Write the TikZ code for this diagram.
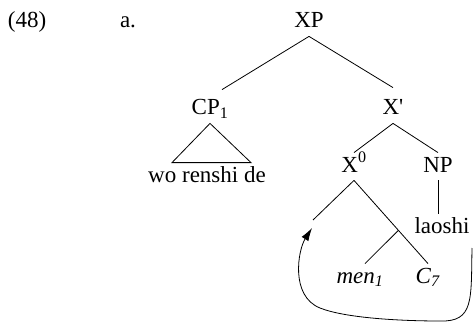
\documentclass[tikz,border=0pt]{standalone}
\usepackage{fontspec}
\setmainfont{Liberation Serif}
\usetikzlibrary{arrows.meta}

\begin{document}
\begin{tikzpicture}[x=1pt, y=-1pt, line width=0.8pt,
    every node/.style={font=\fontsize{23}{27}\selectfont, inner xsep=0pt, inner ysep=3pt,
        text height=16pt, text depth=5pt, anchor=base}]
    % Parametri
    \pgfmathsetmacro{\larghezza}{473}
    \pgfmathsetmacro{\altezza}{323}
    \useasboundingbox (0,0) rectangle (\larghezza,\altezza);
    % Etichette
    \node (numero) at (27,28) {(48)};
    \node (lettera) at (128,28) {a.};
    % Albero
    \node (XP) at (309,28) {XP};
    \node (CP) at (210,115) {CP\textsubscript{1}};
    \node (Xbar) at (393,115) {X\textquotesingle};
    \node (wo) at (207,182) {wo renshi de};
    \node (X0) at (354,172) {X\textsuperscript{0}};
    \node (NP) at (438,172) {NP};
    \node (laoshi) at (442,233) {laoshi};
    \node (men) at (360,283) {\textit{men}\textsubscript{\textit{1}}};
    \node (C7) at (428,283) {\textit{C}\textsubscript{\textit{7}}};
    \coordinate (vuoto) at (313,220);
    \coordinate (partenza) at (472,248);
    % Rami
    \draw (XP.south) -- ([xshift=12pt,yshift=6pt]CP.north);
    \draw (XP.south) -- ([yshift=8pt]Xbar.north);
    \draw (CP.south) -- ([xshift=-35pt]wo.north) -- ([xshift=44pt]wo.north) -- cycle;
    \draw (Xbar.south) -- (X0.north);
    \draw (Xbar.south) -- (NP.north);
    \draw (X0.south) -- (vuoto);
    \draw (X0.south) -- (C7.north) coordinate[pos=0.6] (ramo);
    \draw (ramo) -- ([xshift=5pt]men.north);
    \draw (NP.south) -- (NP.south |- laoshi.north);
    % Movimento
    \draw[-{Latex[length=13pt,width=8pt]}] (partenza) .. controls (471,300) and (474,322) .. (440,321)
        .. controls (400,321) and (345,318) .. (320,308)
        .. controls (290,296) and (298,250) .. ([xshift=-1pt,yshift=-8pt]vuoto);
\end{tikzpicture}
\end{document}
